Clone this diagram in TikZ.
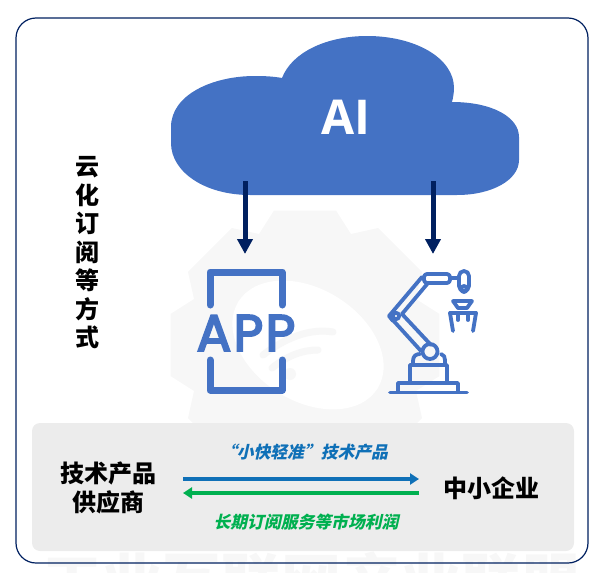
\documentclass[tikz,border=0pt]{standalone}
\usepackage{fontspec}
\usetikzlibrary{arrows.meta,calc,positioning}
\newfontfamily\cjk{Noto Sans CJK SC}
\newfontfamily\cjkit[FakeSlant=0.22]{Noto Sans CJK SC}
\newfontfamily\iconfont[FakeBold=4,LetterSpace=5]{Poppins}
\newfontfamily\cloudfont{Open Sans}
\definecolor{FrameNavy}{HTML}{002060}
\definecolor{CloudBlue}{HTML}{4472C4}
\definecolor{PanelGray}{HTML}{ECECEC}
\definecolor{MarkGray}{HTML}{F7F7F7}
\definecolor{OfferBlue}{HTML}{0F70B7}
\definecolor{ProfitGreen}{HTML}{00B050}

\begin{document}
\begin{tikzpicture}[x=1pt,y=-1pt,
    sidetext/.style={align=center,inner sep=0pt,font=\cjk\bfseries\fontsize{24}{28.5}\selectfont},
    flowlabel/.style={inner sep=0pt,font=\cjkit\bfseries\fontsize{16.8}{20}\selectfont},
    downarrow/.style={-{Triangle[length=15pt,width=15pt]},line width=5pt,FrameNavy},
    flowarrow/.style={-{Triangle[length=9pt,width=11pt]},line width=3.5pt},
    appline/.style={draw=CloudBlue,line width=7pt,line cap=round,line join=round},
    robotline/.style={draw=CloudBlue,line width=3.8pt,line cap=round,line join=round}]
    \useasboundingbox (0,0) rectangle (606,573);
    % watermark
    \begin{scope}
      \clip (0,0) rectangle (606,573);
      \fill[MarkGray] (305,345) \foreach \a in {0,45,...,315} {
          -- ++(0,0) -- ($(305,345)+(\a-24:118)$) -- ($(305,345)+(\a-13:138)$) -- ($(305,345)+(\a+13:138)$) -- ($(305,345)+(\a+24:118)$)
        } -- cycle;
      \fill[white,rotate around={-32:(308,345)}] (308,345) ellipse [x radius=82,y radius=56];
      \draw[MarkGray,line width=7pt,line cap=round] (263,355) .. controls (285,338) and (310,328) .. (333,332);
      \draw[MarkGray,line width=7pt,line cap=round] (272,368) .. controls (287,356) and (302,350) .. (318,350);
      \fill[MarkGray] (290,374) circle [radius=6];
      \node[anchor=base,inner sep=0pt,text=MarkGray,font=\cjk\bfseries\fontsize{60}{60}\selectfont] (mark) at (312,603) {工业互联网产业联盟};
    \end{scope}
    % frame and panel
    \draw[FrameNavy,line width=1.2pt,rounded corners=20pt] (16,18) rectangle (588,563);
    \fill[PanelGray,rounded corners=8pt] (32,423) rectangle (574,551);
    % cloud
    \fill[CloudBlue] (171,127) .. controls (171,95) and (212,76) .. (255,76)
      .. controls (265,76) and (274,76.5) .. (282,78)
      .. controls (292,52) and (327,36) .. (367,36)
      .. controls (415,36) and (454,58) .. (454,88)
      .. controls (454,93) and (453,98) .. (452,102)
      .. controls (492,102) and (519,117) .. (519,137) -- (519,160)
      .. controls (519,180) and (492,195) .. (457,195) -- (250,195)
      .. controls (205,195) and (171,172) .. (171,143) -- cycle;
    \node[inner sep=0pt,text=white,font=\cloudfont\bfseries\fontsize{48}{48}\selectfont] (ai) at (346,117) {AI};
    \node[sidetext] (cloudway) at (87,253) {云\\化\\订\\阅\\等\\方\\式};
    % app icon
    \draw[appline] (210,305) -- (210,272) -- (282,272) -- (282,305);
    \draw[appline] (210,360) -- (210,390) -- (282,390) -- (282,360);
    \node[inner sep=0pt,text=CloudBlue,font=\iconfont\fontsize{51}{51}\selectfont] (app) at (246,333) {APP};
    % robot icon
    \draw[robotline] (390,392.5) -- (467,392.5);
    \draw[robotline] (398,392) -- (398,383) -- (458,383) -- (458,392);
    \draw[robotline] (410,383) -- (410,365) -- (447,365) -- (447,383);
    \draw[robotline] (413,365) -- (413,361) .. controls (413,356) and (416,354) .. (420,354);
    \draw[robotline] (445,365) -- (445,360) .. controls (445,357) and (444,355) .. (441,354);
    \draw[robotline] (430,351.5) circle [radius=7.5];
    \draw[robotline] (391,318) -- (421,351);
    \draw[robotline] (402,314) -- (431,345);
    \draw[robotline] (389,316) -- (422,277);
    \draw[robotline] (402,314) -- (428,283);
    \draw[robotline] (389,316) -- (393,321);
    \draw[robotline] (396,316) circle [radius=3.2];
    \draw[robotline,rounded corners=3pt] (424,274) rectangle (450,283);
    \draw[robotline] (450,278) -- (457,278);
    \draw[robotline,rounded corners=5pt] (459,271) rectangle (469,291);
    \draw[robotline] (464,289) circle [radius=3];
    \draw[robotline] (453,301) -- (472,301) -- (467,308) -- (458,308) -- cycle;
    \draw[robotline] (450,313) -- (476,313);
    \draw[robotline] (450,313) -- (453,331);
    \draw[robotline] (476,313) -- (473,331);
    \draw[robotline] (458,313) -- (458,320);
    \draw[robotline] (468,313) -- (468,320);
    % connectors
    \coordinate (cloudleft) at (245,181);
    \coordinate (appin) at (245,254);
    \coordinate (cloudright) at (433,181);
    \coordinate (robotin) at (433,254);
    \draw[downarrow] (cloudleft) -- (appin);
    \draw[downarrow] (cloudright) -- (robotin);
    % bottom panel
    \node[sidetext] (supplier) at (108,488) {技术产品\\供应商};
    \node[sidetext] (sme) at (491,488) {中小企业};
    \coordinate (offerstart) at (183,479);
    \coordinate (offerend) at (419,479);
    \coordinate (profitstart) at (419,493);
    \coordinate (profitend) at (183,493);
    \draw[flowarrow,OfferBlue] (offerstart) -- (offerend);
    \draw[flowarrow,ProfitGreen] (profitstart) -- (profitend);
    \node[flowlabel,text=OfferBlue] (offer) at (304,452) {“小快轻准”技术产品};
    \node[flowlabel,text=ProfitGreen] (profit) at (306,522) {长期订阅服务等市场利润};
  \end{tikzpicture}
\end{document}
